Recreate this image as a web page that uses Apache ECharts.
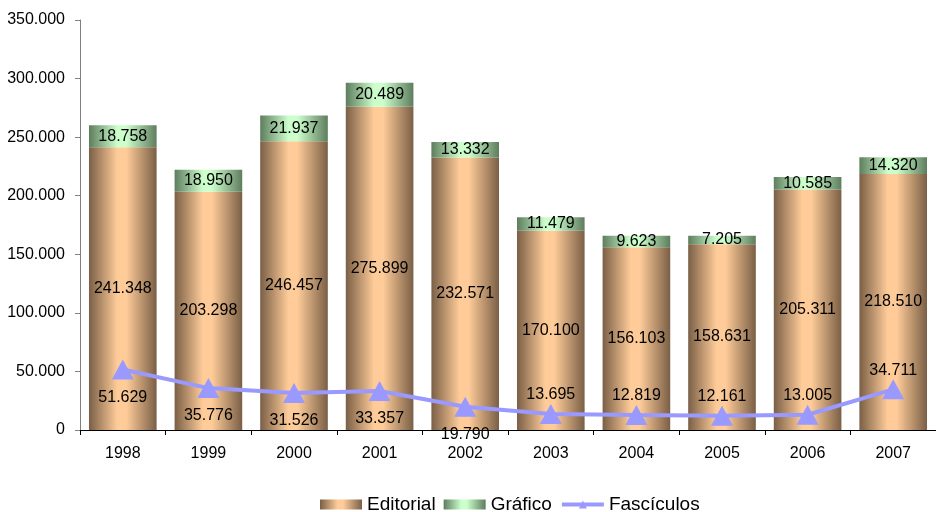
<!DOCTYPE html>
<html>
<head>
<meta charset="utf-8">
<script src="https://cdn.jsdelivr.net/npm/echarts@6/dist/echarts.min.js"></script>
<style>html,body{margin:0;padding:0;background:#fff;}#c{width:936px;height:512px;}</style>
</head>
<body>
<div id="c"></div>
<script>
var years = ['1998','1999','2000','2001','2002','2003','2004','2005','2006','2007'];
var editorial = [241348, 203298, 246457, 275899, 232571, 170100, 156103, 158631, 205311, 218510];
var grafico = [18758, 18950, 21937, 20489, 13332, 11479, 9623, 7205, 10585, 14320];
var fasciculos = [51629, 35776, 31526, 33357, 19790, 13695, 12819, 12161, 13005, 34711];
var yTicks = [0, 50000, 100000, 150000, 200000, 250000, 300000, 350000];

function fmt(n){ return String(n).replace(/\B(?=(\d{3})+(?!\d))/g, '.'); }
var FONT = 'Liberation Sans, Arial, sans-serif';

function grad(dark, light){
  return new echarts.graphic.LinearGradient(0,0,1,0,[
    {offset:0, color:dark},{offset:0.42, color:light},{offset:0.55, color:light},{offset:1, color:dark}
  ]);
}

var chart = echarts.init(document.getElementById('c'));
chart.setOption({
  animation:false,
  textStyle:{fontFamily:FONT},
  grid:{left:80, right:-5, top:20, bottom:82},
  legend:{
    top:490, left:315, itemWidth:42, itemHeight:10, itemGap:8,
    textStyle:{fontSize:19, color:'#000', fontFamily:FONT},
    data:[
      {name:'Editorial', icon:'rect'},
      {name:'Gráfico', icon:'rect'},
      {name:'Fascículos', lineStyle:{width:4, color:'#9999ff'}}
    ]
  },
  xAxis:{
    type:'category', data:years,
    axisLine:{lineStyle:{color:'#000', width:1}},
    axisTick:{show:true, length:5, lineStyle:{color:'#000'}},
    axisLabel:{fontSize:16, color:'#000', margin:16, fontFamily:FONT}
  },
  yAxis:{
    type:'value', min:yTicks[0], max:yTicks[yTicks.length-1], interval:50000,
    axisLine:{show:true, lineStyle:{color:'#808080'}},
    axisTick:{show:true, length:5, lineStyle:{color:'#808080'}},
    splitLine:{show:false},
    axisLabel:{fontSize:16, color:'#000', margin:15, fontFamily:FONT, formatter:function(v){return fmt(v);}}
  },
  series:[
    {
      name:'Editorial', type:'bar', stack:'t', data:editorial, barCategoryGap:'21%',
      itemStyle:{color:grad('#7a5f46','#ffcc99'), borderRadius:0},
      label:{show:true, position:'inside', fontSize:16, color:'#000', fontFamily:FONT, formatter:function(p){return fmt(p.value);}}
    },
    {
      name:'Gráfico', type:'bar', stack:'t', data:grafico,
      itemStyle:{color:grad('#5e7d5e','#ccffcc'), borderRadius:0},
      label:{show:true, position:'inside', fontSize:16, color:'#000', fontFamily:FONT, formatter:function(p){return fmt(p.value);}}
    },
    {
      name:'Fascículos', type:'line', z:5,
      data:fasciculos.map(function(v,i){return {value:v, label:{position: i<5?'bottom':'top', distance: i<5?10:1}};}),
      symbol:'triangle', symbolSize:[22,20],
      lineStyle:{color:'#9999ff', width:4},
      itemStyle:{color:'#9999ff'},
      label:{show:true, fontSize:16, color:'#000', fontFamily:FONT, formatter:function(p){return fmt(p.value);}}
    }
  ]
});
</script>
</body>
</html>
